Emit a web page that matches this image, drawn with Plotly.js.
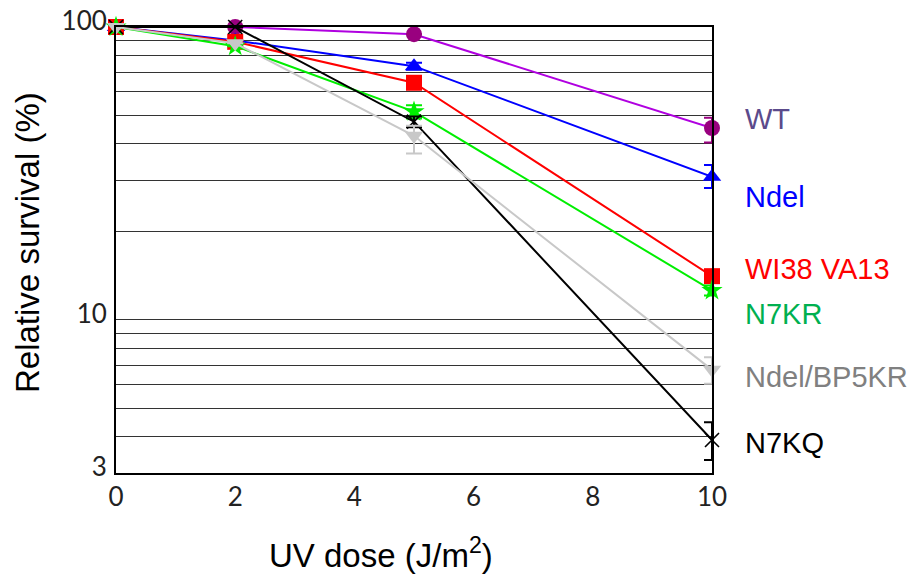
<!DOCTYPE html>
<html><head><meta charset="utf-8">
<script src="https://cdn.plot.ly/plotly-3.0.1.min.js"></script>
<style>body{margin:0;background:#fff}#chart{width:917px;height:579px}</style>
</head><body><div id="chart"></div>
<script>
const doses = [0, 2, 5, 10];
const seriesNames = ["WT", "Ndel", "WI38 VA13", "N7KR", "N7KQ", "Ndel/BP5KR"];
const wtValues = [100, 100, 94.5, 45.2];
const wtErrUp = [0, 0, 0, 3.8];
const wtErrDown = [0, 0, 0, 4.9];
const ndelValues = [100, 90, 73.5, 30.8];
const ndelErrUp = [0, 0, 2, 3.0];
const ndelErrDown = [0, 0, 2, 2.6];
const wi38Values = [100, 89, 64.5, 14.1];
const wi38ErrUp = [0, 0, 0, 0.4];
const wi38ErrDown = [0, 0, 0, 0.4];
const n7krValues = [100, 86, 51.4, 12.6];
const n7krErrUp = [0, 0, 2.7, 0.5];
const n7krErrDown = [0, 0, 2.7, 0.5];
const n7kqValues = [100, 100, 47.5, 3.89];
const n7kqErrUp = [0, 0, 2, 0.58];
const n7kqErrDown = [0, 0, 2, 0.57];
const bp5krValues = [100, 88, 42.5, 6.75];
const bp5krErrUp = [0, 0, 3.5, 0.7];
const bp5krErrDown = [0, 0, 5.5, 0.7];
const xTicks = [0, 2, 4, 6, 8, 10];
const yTickVals = [3, 10, 100];
const yTickText = ["3", "10", "100"];
const yMinorGrid = [4, 5, 6, 7, 8, 9, 20, 30, 40, 50, 60, 70, 80, 90];

function tr(name, y, up, down, lineColor, markerColor, symbol, size) {
  return {
    x: doses, y: y, name: name, type: "scatter", mode: "lines+markers",
    line: {color: lineColor, width: 2},
    marker: {color: markerColor, symbol: symbol, size: size, line: {color: markerColor, width: symbol === "x-thin" ? 1.6 : 0}},
    error_y: {type: "data", symmetric: false, array: up, arrayminus: down, color: markerColor, thickness: 2, width: 8},
    cliponaxis: false
  };
}
const data = [
  tr(seriesNames[0], wtValues, wtErrUp, wtErrDown, "#b000e0", "#99007f", "circle", 16),
  tr(seriesNames[1], ndelValues, ndelErrUp, ndelErrDown, "#0000ff", "#0000ff", "triangle-up", 16),
  tr(seriesNames[2], wi38Values, wi38ErrUp, wi38ErrDown, "#ff0000", "#ff0000", "square", 16),
  tr(seriesNames[3], n7krValues, n7krErrUp, n7krErrDown, "#00ee00", "#00ee00", "star", 16),
  tr(seriesNames[4], n7kqValues, n7kqErrUp, n7kqErrDown, "#000000", "#000000", "x-thin", 14),
  tr(seriesNames[5], bp5krValues, bp5krErrUp, bp5krErrDown, "#c8c8c8", "#c8c8c8", "triangle-down", 16)
];
const labelColors = ["#5b4a8b", "#0000ff", "#ff0000", "#00b050", "#000000", "#808080"];
const labelY = [119, 197, 269, 314, 443, 377];
const annotations = seriesNames.map((n, i) => ({
  text: n, xref: "paper", yref: "paper", x: (743 - 116) / 596, y: (473 - labelY[i]) / 446,
  xanchor: "left", yanchor: "middle", showarrow: false,
  font: {family: "Liberation Sans, Arial, sans-serif", size: 29, color: labelColors[i]}
}));
annotations.push({
  text: "Relative survival (%)", xref: "paper", yref: "paper", x: (28 - 116) / 596, y: (473 - 243) / 446,
  textangle: -90, xanchor: "center", yanchor: "middle", showarrow: false,
  font: {family: "Liberation Sans, Arial, sans-serif", size: 33, color: "#000"}
});
annotations.push({
  text: "UV dose (J/m<sup>2</sup>)", xref: "paper", yref: "paper", x: (381 - 116) / 596, y: (473 - 553) / 446,
  xanchor: "center", yanchor: "middle", showarrow: false,
  font: {family: "Liberation Sans, Arial, sans-serif", size: 33, color: "#000"}
});
const layout = {
  width: 917, height: 579,
  margin: {l: 116, r: 205, t: 27, b: 106, pad: 0},
  paper_bgcolor: "#fff", plot_bgcolor: "#fff",
  showlegend: false,
  xaxis: {
    range: [0, 10], tickvals: xTicks, ticks: "", showgrid: false, zeroline: false,
    showline: true, linecolor: "#000", linewidth: 2, mirror: true,
    tickfont: {family: "Lato, sans-serif", size: 26, color: "#222"}
  },
  yaxis: {
    type: "log", range: [Math.log10(3), 2], tickvals: yTickVals, ticktext: yTickText,
    ticks: "", showgrid: true, gridcolor: "#333", gridwidth: 1, zeroline: false,
    showline: true, linecolor: "#000", linewidth: 2, mirror: true,
    ticklabelshift: -6, ticklabelstandoff: 2,
    minor: {tickvals: yMinorGrid, showgrid: true, gridcolor: "#333", gridwidth: 1, ticks: ""},
    tickfont: {family: "Lato, sans-serif", size: 26, color: "#222"}
  },
  annotations: annotations
};
Plotly.newPlot("chart", data, layout, {displayModeBar: false, staticPlot: true});
</script></body></html>
